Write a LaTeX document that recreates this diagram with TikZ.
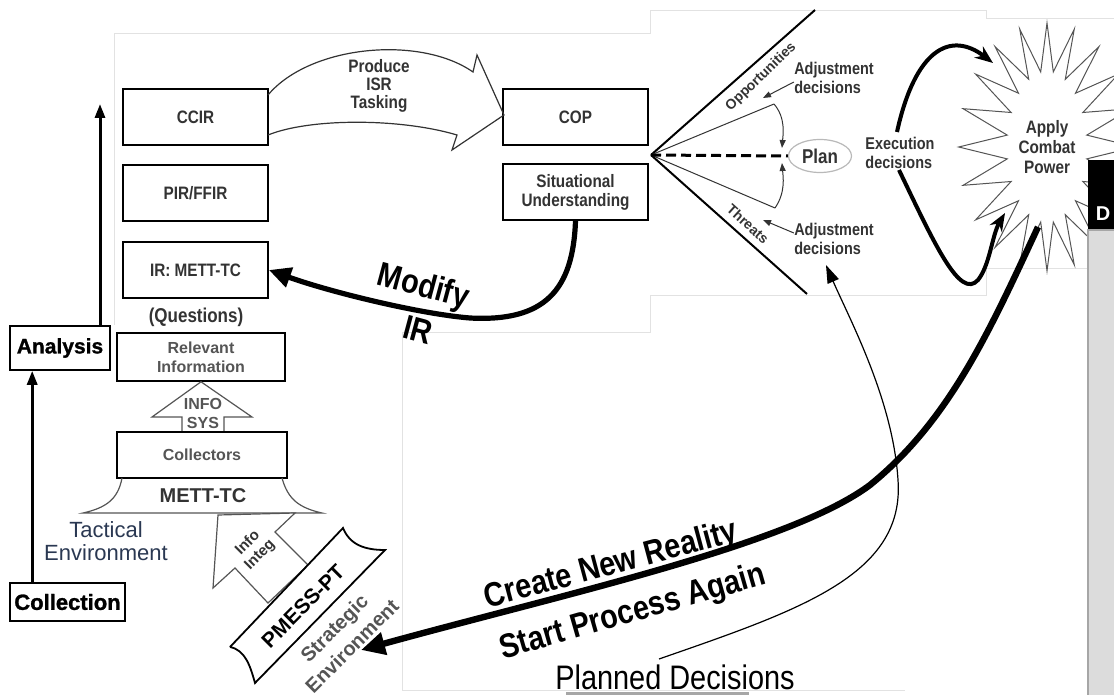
\documentclass[tikz,border=0pt]{standalone}
\usepackage{fontspec}
\setmainfont{Liberation Sans}
\newfontfamily\narrowsf{Liberation Sans}[FakeStretch=0.85]
\newfontfamily\heavysf{Liberation Sans}[FakeBold=1.2]
\usetikzlibrary{arrows.meta,shapes.geometric,shapes.symbols}
\definecolor{ink}{HTML}{333333}
\definecolor{inkgray}{HTML}{555555}
\definecolor{navy}{HTML}{2A3852}
\definecolor{paneledge}{HTML}{E2E2E2}
\definecolor{sidegray}{HTML}{DCDCDC}

\begin{document}
\begin{tikzpicture}[x=0.5pt,y=-0.5pt,
    reqbox/.style={draw, line width=0.9pt, minimum width=72.5pt, minimum height=28pt, inner sep=1pt, align=center, text=ink, font=\narrowsf\bfseries\fontsize{9}{9.5}\selectfont},
    infobox/.style={draw, line width=0.8pt, align=center, inner sep=1pt, text=inkgray, font=\bfseries\fontsize{8}{9.5}\selectfont},
    stagebox/.style={draw, line width=0.8pt, inner sep=0pt},
    note/.style={text=ink, align=center, inner sep=0pt, font=\narrowsf\bfseries\fontsize{8.5}{9.5}\selectfont},
    bigtext/.style={inner sep=0pt, font=\narrowsf\bfseries\fontsize{17}{17}\selectfont},
    flow/.style={line width=2.6pt, -{Triangle[length=11pt,width=10pt]}},
    fanline/.style={line width=0.5pt, draw=ink},
    smallarrow/.style={line width=0.5pt, draw=ink, -{Triangle[length=4pt,width=3pt]}}]
    % Page and panels
    \fill[white] (0,0) rectangle (1114,695);
    \useasboundingbox (0,0) rectangle (1114,695);
    \draw[paneledge] (114,325) -- (114,33) -- (650,33) -- (650,10) -- (986,10) -- (986,18) -- (1114,18);
    \draw[paneledge] (402,690) -- (402,332) -- (650,332) -- (650,295) -- (986,295) -- (986,268) -- (1088,268);
    \draw[paneledge] (402,690) -- (905,690);
    \fill[gray!70] (566,692) rectangle (749,695);

    % Requirement boxes
    \node[reqbox] (ccir) at (195.5,117) {CCIR};
    \node[reqbox] (pir) at (195.5,193) {PIR/FFIR};
    \node[reqbox] (ir) at (195.5,270) {IR: METT-TC};
    \node[reqbox] (cop) at (575.5,117) {COP};
    \node[reqbox] (su) at (575.5,192) {Situational\\Understanding};
    \node[note, font=\narrowsf\bfseries\fontsize{10}{10}\selectfont] (questions) at (196,317) {(Questions)};

    % Produce ISR tasking arrow
    \draw[line width=0.6pt, draw=ink] (268,95) .. controls (310,45) and (420,35) .. (473,72) -- (477,55) -- (504,115)
        -- (452,150) -- (457,135) .. controls (400,118) and (310,118) .. (268,135);
    \node[note, font=\narrowsf\bfseries\fontsize{9}{9}\selectfont] (produce) at (379,86) {Produce\\ISR\\Tasking};

    % Collection side
    \node[infobox, minimum width=84pt, minimum height=24pt] (relevant) at (201,357) {Relevant\\Information};
    \draw[line width=0.6pt, draw=inkgray] (relevant.south) -- (252,417) -- (224,417) -- (224,432) -- (182,432) -- (182,417) -- (152,417) -- cycle;
    \node[text=inkgray, align=center, inner sep=0pt, font=\bfseries\fontsize{8}{9.5}\selectfont] (infosys) at (203,413) {INFO\\SYS};
    \node[infobox, minimum width=85pt, minimum height=23pt] (collectors) at (202,455) {Collectors};
    \draw[line width=0.6pt, draw=inkgray] (122,478) .. controls (118,500) and (105,508) .. (83,513) -- (322,513)
        .. controls (300,508) and (288,500) .. (282,478);
    \node[text=ink, inner sep=0pt, font=\bfseries\fontsize{10}{10}\selectfont] (mett) at (203,496) {METT-TC};
    \node[text=navy, align=center, inner sep=0pt, font=\fontsize{11}{11.5}\selectfont] (tactical) at (106,541) {Tactical\\Environment};

    % Info integ arrow and strategic banner
    \draw[line width=0.6pt, draw=inkgray, fill=white] (218,515) -- (295,513) -- (275,532) -- (308,565) -- (268,603) -- (235,568) -- (213,588) -- cycle;
    \node[text=ink, align=center, inner sep=0pt, rotate=45, font=\bfseries\fontsize{7.5}{8.5}\selectfont] (integ) at (254,549) {Info\\Integ};
    \draw[line width=0.9pt, fill=white] (230,647) -- (343,528) .. controls (350,545) and (365,550) .. (385,550)
        -- (255,683) .. controls (250,665) and (245,650) .. (230,647);
    \node[inner sep=0pt, rotate=45, font=\bfseries\fontsize{10.5}{10.5}\selectfont] (pmess) at (303,606) {PMESS-PT};
    \node[text=inkgray, align=center, inner sep=0pt, rotate=45, font=\bfseries\fontsize{10}{12.5}\selectfont] (strategic) at (343,637) {Strategic\\Environment};

    % Analysis and collection
    \node[stagebox, minimum width=50pt, minimum height=22pt, font=\heavysf\bfseries\fontsize{10.5}{11}\selectfont] (analysis) at (60,348) {Analysis};
    \node[stagebox, minimum width=57.5pt, minimum height=19pt, font=\heavysf\bfseries\fontsize{11}{11}\selectfont] (collection) at (67.5,602) {Collection};
    \coordinate (sensetop) at (100,104);
    \draw[line width=1.5pt, -{Triangle[length=7pt,width=5pt]}] (analysis.north -| sensetop) -- (sensetop);
    \draw[line width=1.5pt, -{Triangle[length=7pt,width=5pt]}] ([xshift=11.5pt]collection.north west) -- ([xshift=11.5pt]analysis.south west);

    % Modify IR
    \draw[flow] (su.south) .. controls (573,290) and (545,322) .. (470,318) .. controls (420,314) and (330,292) .. (ir.east);
    \node[bigtext, rotate=-15] (modify) at (423,288) {Modify};
    \node[bigtext, rotate=-15] (modifyir) at (418,330) {IR};

    % Decision fan
    \coordinate (apex) at (651,155);
    \draw[line width=1pt] (apex) -- (815,10);
    \draw[line width=1pt] (apex) -- (807,294);
    \draw[fanline] (apex) -- (774,104);
    \draw[fanline] (apex) -- (775,208);
    \node[ellipse, draw=gray!55, line width=0.6pt, minimum width=31.5pt, minimum height=16.5pt, inner sep=0pt, font=\narrowsf\bfseries\fontsize{10}{10}\selectfont, text=ink] (plan) at (820,156) {Plan};
    \draw[line width=1.5pt, dash pattern=on 5pt off 2.5pt] (apex) -- (plan.west);
    \draw[smallarrow] (774,104) .. controls (786,118) and (783,135) .. (782,148);
    \draw[smallarrow] (775,208) .. controls (786,192) and (783,176) .. (782,163);
    \node[text=ink, inner sep=0pt, rotate=44, font=\bfseries\fontsize{7}{7}\selectfont] (opport) at (761,77) {Opportunities};
    \node[text=ink, inner sep=0pt, rotate=-42, font=\bfseries\fontsize{7}{7}\selectfont] (threats) at (748,224) {Threats};
    \node[note, align=left] (adjup) at (834,78) {Adjustment\\decisions};
    \node[note, align=left] (adjdown) at (834,239) {Adjustment\\decisions};
    \draw[smallarrow] (adjup.west |- 0,82) -- (763,98);
    \draw[smallarrow] (adjdown.west |- 0,233) -- (763,220);
    \node[note, align=left] (exec) at (900,153) {Execution\\decisions};

    % Combat power
    \node[starburst, starburst points=20, starburst point height=24pt, random starburst=0, draw=inkgray, line width=0.5pt,
        fill=white, minimum width=72pt, minimum height=124pt, inner sep=0pt, note, font=\narrowsf\bfseries\fontsize{9}{10}\selectfont] (power) at (1047,147) {Apply\\Combat\\Power};
    \coordinate (hitup) at (993,63);
    \coordinate (hitdown) at (1005,213);
    \coordinate (burstfoot) at (1038,227);
    \draw[line width=2pt, -{Stealth[length=9pt,width=7pt]}] (897,132) .. controls (915,50) and (950,30) .. (hitup);
    \draw[line width=2pt, -{Stealth[length=9pt,width=7pt]}] (899,170) .. controls (935,245) and (960,300) .. (978,280)
        .. controls (990,265) and (992,235) .. (hitdown);

    % Side panel
    \fill[black] (1088,160) rectangle (1114,230);
    \node[text=white, inner sep=0pt, font=\bfseries\fontsize{10}{10}\selectfont] (dlabel) at (1103,214) {D};
    \filldraw[fill=sidegray, draw=gray!70, line width=0.6pt] (1088,230) rectangle (1116,697);

    % New reality
    \coordinate (strattip) at (361,650);
    \draw[line width=3.2pt, -{Triangle[length=12pt,width=11pt]}] (burstfoot) .. controls (990,330) and (950,420) .. (870,485)
        .. controls (790,545) and (560,595) .. (strattip);
    \node[bigtext, rotate=15] (reality) at (611,566) {Create New Reality};
    \node[bigtext, rotate=16] (again) at (633,613) {Start Process Again};

    % Planned decisions
    \node[inner sep=0pt, font=\narrowsf\fontsize{17}{17}\selectfont] (planned) at (675,677) {Planned Decisions};
    \coordinate (plannedfoot) at (659,659);
    \coordinate (plannedtip) at (826,265);
    \draw[line width=0.6pt, -{Triangle[length=9pt,width=6pt]}] (plannedfoot) .. controls (800,610) and (905,575) .. (898,480)
        .. controls (893,400) and (850,320) .. (plannedtip);
\end{tikzpicture}
\end{document}
